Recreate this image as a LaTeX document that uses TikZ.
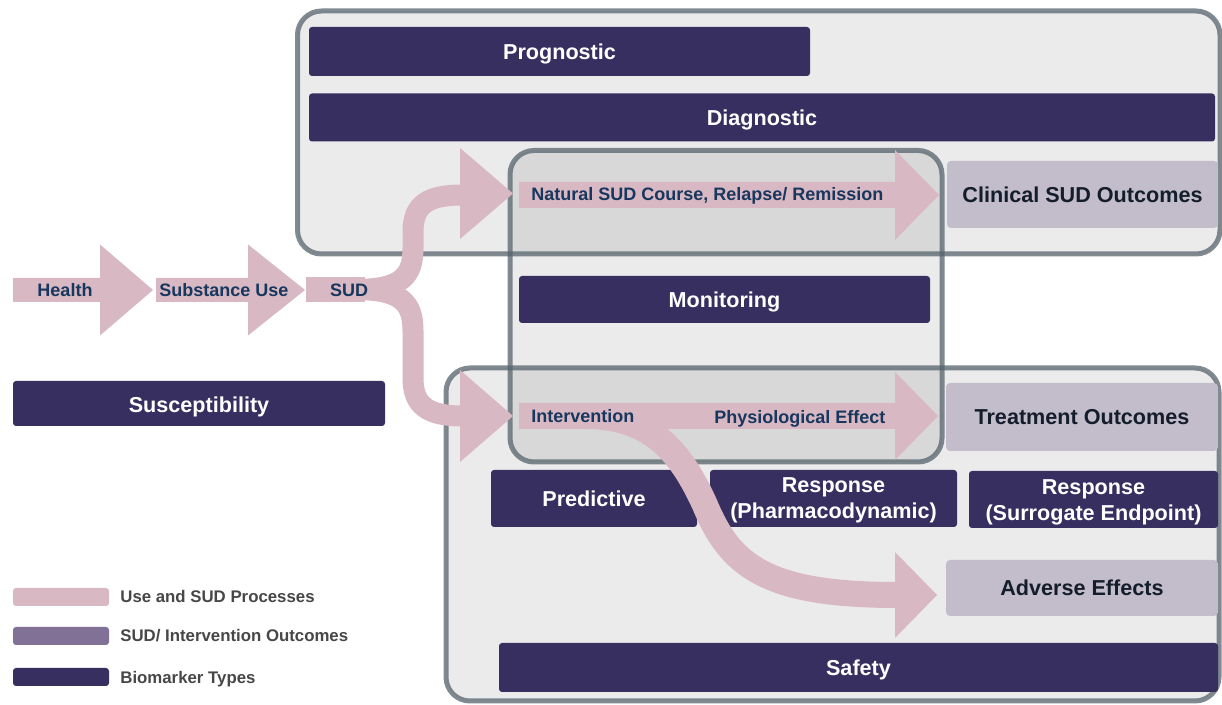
\documentclass[tikz,border=0pt]{standalone}
\usepackage{fontspec}
\setmainfont{Liberation Sans}
\definecolor{bm}{HTML}{382F61}
\definecolor{pk}{HTML}{D8B8C2}
\definecolor{oc}{HTML}{C3BCCB}
\definecolor{ocleg}{HTML}{817196}
\definecolor{octext}{HTML}{141D2B}
\definecolor{lblue}{HTML}{17375E}
\definecolor{grpfill}{HTML}{EBEBEB}
\definecolor{bord}{HTML}{56636C}
\definecolor{legtext}{HTML}{474747}
\newcommand\procarrow[6]{%
  \fill[pk] (#1,{#4-#5}) -- (#2,{#4-#5}) -- (#2,{#4-#6}) -- (#3,#4) -- (#2,{#4+#6}) -- (#2,{#4+#5}) -- (#1,{#4+#5}) -- cycle;}
\tikzset{
  bar/.style={fill=bm, rounded corners=1.5pt, text=white, font=\bfseries\fontsize{10.8}{13}\selectfont, inner sep=0pt, align=center},
  captext/.style={text height=7.7pt, text depth=0pt},
  outc/.style={fill=oc, rounded corners=2pt, text=octext, font=\bfseries\fontsize{10.8}{13}\selectfont, inner sep=0pt, text height=7.7pt, text depth=0pt},
  lab/.style={text=lblue, font=\bfseries\fontsize{9}{11}\selectfont, inner sep=0pt, text height=6.45pt, text depth=0pt},
  legbar/.style={rounded corners=1.5pt, minimum width=48pt, minimum height=9pt, inner sep=0pt},
  legtxt/.style={text=legtext, font=\bfseries\fontsize{8.4}{10}\selectfont, inner sep=0pt, anchor=west, text height=6pt, text depth=0pt},
  grp/.style={draw=bord, draw opacity=0.75, line width=2.5pt, rounded corners=12pt},
  flow/.style={draw=pk, line width=10.5pt},
}
\begin{document}
\begin{tikzpicture}[x=0.5pt,y=-0.5pt]
\useasboundingbox (0,0) rectangle (1222,705);
\fill[white] (0,0) rectangle (1222,705);
% group fills
\fill[grpfill, rounded corners=12pt] (297.5,11) rectangle (1220,254);
\fill[grpfill, rounded corners=12pt] (446,368) rectangle (1219,701);
\fill[black, fill opacity=0.08, rounded corners=12pt] (510,150.5) rectangle (942,462);
% borders
\draw[grp] (297.5,11) rectangle (1220,254);
\draw[grp] (446,368) rectangle (1219,701);
\draw[grp] (510,150.5) rectangle (942,462);
% biomarker bars
\node[bar, captext, minimum width=250.5pt, minimum height=24.5pt] (prog) at (559.5,51.5) {Prognostic};
\node[bar, captext, minimum width=453pt, minimum height=24pt] (diag) at (762,117.5) {Diagnostic};
\node[bar, captext, minimum width=205.5pt, minimum height=23.5pt] (monbar) at (724.5,299.5) {Monitoring};
\fill[bm, rounded corners=1.5pt] (13,381) rectangle (385,426);
\node[bar, captext, fill=none] (susc) at (199,405) {Susceptibility};
\node[bar, captext, minimum width=103pt, minimum height=28.5pt] (pred) at (594,498.5) {Predictive};
\fill[bm, rounded corners=1.5pt] (710,470) rectangle (957,527);
\node[bar, fill=none] (rpharm) at (833.5,500.5) {Response\\(Pharmacodynamic)};
\fill[bm, rounded corners=1.5pt] (969,471) rectangle (1218,528);
\node[bar, fill=none] (rsurr) at (1093.5,502) {Response\\(Surrogate Endpoint)};
\node[bar, captext, minimum width=359.5pt, minimum height=24.5pt] (safety) at (858.5,667.5) {Safety};
% outcomes
\node[outc, minimum width=135.5pt, minimum height=33.5pt] (clin) at (1082.5,194.5) {Clinical SUD Outcomes};
\node[outc, minimum width=136pt, minimum height=34pt] (treat) at (1082,417) {Treatment Outcomes};
\node[outc, minimum width=136pt, minimum height=28pt] (adv) at (1082,588) {Adverse Effects};
% process arrows
\procarrow{13}{100}{153}{290}{12}{45.5}
\procarrow{156}{248}{305}{290}{12}{45.5}
\fill[pk] (306,277) rectangle (365,302);
\draw[flow] (355,289.5) .. controls (402,289.5) and (413,276) .. (413,248) -- (413,232) .. controls (413,204) and (428,195) .. (463,195);
\fill[pk] (460,148) -- (513,193.5) -- (460,239) -- cycle;
\draw[flow] (355,289.5) .. controls (402,289.5) and (413,303) .. (413,331) -- (413,378) .. controls (413,406) and (428,416) .. (463,416);
\fill[pk] (460,370) -- (513,416) -- (460,462) -- cycle;
\procarrow{519}{895}{939}{195}{13}{45}
\procarrow{519}{895}{938}{416}{13}{44}
\draw[pk, line width=13pt] (585,416) .. controls (650,416) and (680,450) .. (705,505) .. controls (730,565) and (765,595) .. (897,595);
\fill[pk] (895,552) -- (937,595) -- (895,638) -- cycle;
% labels
\node[lab] (health) at (65,290) {Health};
\node[lab] (subuse) at (224,290) {Substance Use};
\node[lab] (sud) at (349,290) {SUD};
\node[lab, anchor=west] (natural) at (531,194) {Natural SUD Course, Relapse/ Remission};
\node[lab, anchor=west] (interv) at (531,416) {Intervention};
\node[lab, anchor=west] (physio) at (714,417) {Physiological Effect};
% legend
\node[legbar, fill=pk] (lg1) at (61,597) {};
\node[legbar, fill=ocleg] (lg2) at (61,636) {};
\node[legbar, fill=bm] (lg3) at (61,677) {};
\node[legtxt] (lt1) at (120,597) {Use and SUD Processes};
\node[legtxt] (lt2) at (120,636) {SUD/ Intervention Outcomes};
\node[legtxt] (lt3) at (120,677) {Biomarker Types};
\end{tikzpicture}
\end{document}
